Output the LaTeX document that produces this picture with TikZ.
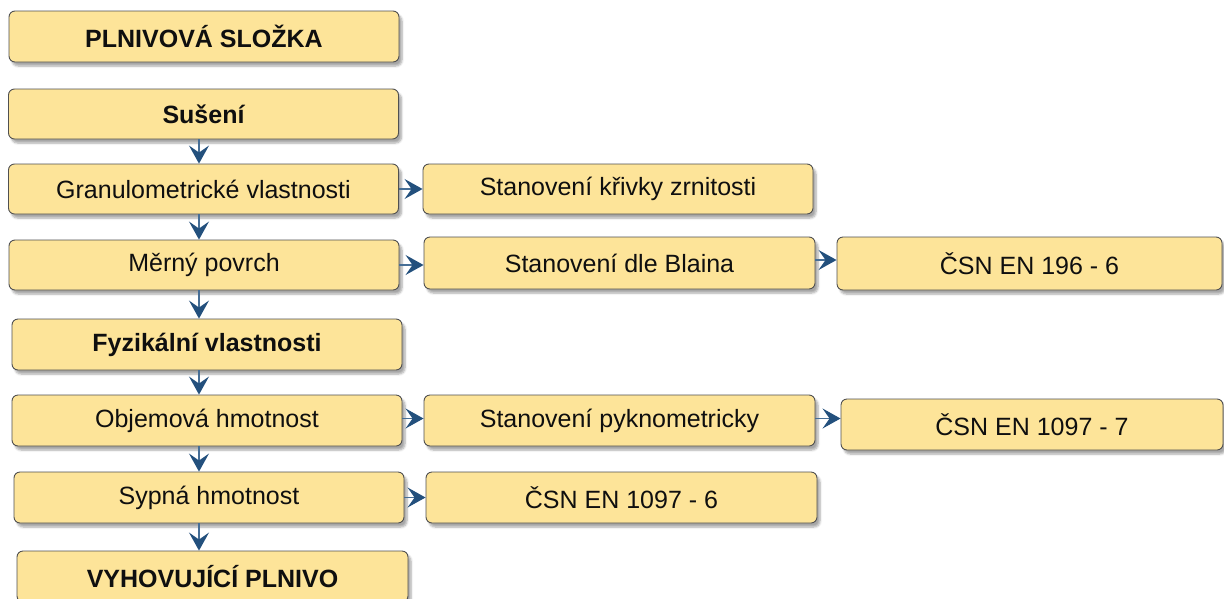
\documentclass[tikz,border=0pt]{standalone}
\usepackage{fontspec}
\setmainfont{Liberation Sans}
\usetikzlibrary{arrows.meta,shadows.blur}
\definecolor{boxfill}{RGB}{253,228,153}
\definecolor{boxline}{RGB}{80,80,80}
\definecolor{arrline}{RGB}{70,110,150}
\definecolor{arrhead}{RGB}{35,80,125}
\definecolor{txt}{RGB}{15,15,15}
\tikzset{
  box/.style={draw=boxline, line width=0.9pt, fill=boxfill, rounded corners=6pt,
    minimum width=390pt, minimum height=51pt, inner sep=0pt,
    text=txt, font=\fontsize{25}{28}\selectfont,
    blur shadow={shadow xshift=3pt, shadow yshift=-4pt, shadow opacity=35, shadow blur steps=6}},
  boldbox/.style={box, font=\fontsize{25}{28}\selectfont\bfseries},
  arr/.style={draw=arrline, line width=1.2pt,
    -{Stealth[length=18pt, width=20pt, inset=7pt, color=arrhead, fill=arrhead]}}
}
\begin{document}
\begin{tikzpicture}[x=1pt,y=-1pt]
\useasboundingbox (0,0) rectangle (1224,598);
\node[boldbox] (A) at (204,36.5) {PLNIVOVÁ SLOŽKA};
\node[boldbox, minimum height=50pt] (B) at (203.5,114) {Sušení};
\node[box, minimum height=50pt] (C) at (203.5,189) {Granulometrické vlastnosti};
\node[box, minimum height=50pt] (C2) at (618,189) {Stanovení křivky zrnitosti};
\node[box, minimum height=50pt] (D) at (204,265) {Měrný povrch};
\node[box, minimum width=391pt, minimum height=52pt] (D2) at (619.5,263) {Stanovení dle Blaina};
\node[box, minimum width=385pt, minimum height=53pt] (D3) at (1029.5,263.5) {ČSN EN 196 - 6};
\node[boldbox] (E) at (207,344.5) {Fyzikální vlastnosti};
\node[box] (F) at (207,420.5) {Objemová hmotnost};
\node[box, minimum width=391pt] (F2) at (619.5,420.5) {Stanovení pyknometricky};
\node[box, minimum width=382pt] (F3) at (1032,424.5) {ČSN EN 1097 - 7};
\node[box] (G) at (209,497.5) {Sypná hmotnost};
\node[box, minimum width=391pt] (G2) at (621.5,497.5) {ČSN EN 1097 - 6};
\node[boldbox, minimum width=391pt] (H) at (212.5,576.5) {VYHOVUJÍCÍ PLNIVO};
% vertical arrows
\draw[arr] ([xshift=-4.5pt]B.south) -- ([xshift=-4.5pt]C.north);
\draw[arr] ([xshift=-4.5pt]C.south) -- ([xshift=-5pt]D.north);
\draw[arr] ([xshift=-5pt]D.south) -- ([xshift=-8pt]E.north);
\draw[arr] ([xshift=-8pt]E.south) -- ([xshift=-8pt]F.north);
\draw[arr] ([xshift=-8pt]F.south) -- ([xshift=-10pt]G.north);
\draw[arr] ([xshift=-10pt]G.south) -- ([xshift=-13.5pt]H.north);
% horizontal arrows
\draw[arr] (C.east) -- (C.east -| C2.west);
\draw[arr] (D.east) -- (D.east -| D2.west);
\draw[arr] ([yshift=3pt]D2.east) -- ([yshift=3pt]D2.east -| D3.west);
\draw[arr] ([yshift=2pt]F.east) -- ([yshift=2pt]F.east -| F2.west);
\draw[arr] ([yshift=2pt]F2.east) -- ([yshift=2pt]F2.east -| F3.west);
\draw[arr] (G.east) -- (G.east -| G2.west);
\end{tikzpicture}
\end{document}
